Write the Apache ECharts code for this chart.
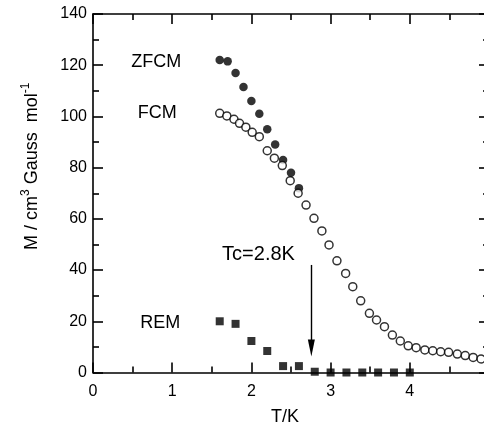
<!DOCTYPE html>
<html>
<head>
<meta charset="utf-8">
<title>M vs T</title>
<script src="https://cdn.jsdelivr.net/npm/echarts@6/dist/echarts.min.js"></script>
<style>
  html, body { margin: 0; padding: 0; background: #fff; }
  #main { width: 484px; height: 425px; }
</style>
</head>
<body>
<div id="main"></div>
<script>
// data (T in K, M in cm3 Gauss mol-1)
var zfcmT = [1.6, 1.7, 1.8, 1.9, 2.0, 2.1, 2.2, 2.3, 2.4, 2.5, 2.6];
var zfcmM = [122, 121.5, 117, 111.5, 106, 101, 95, 89, 83, 78, 72];

var fcmT = [1.60, 1.69, 1.78, 1.85, 1.93, 2.01, 2.10, 2.20, 2.29, 2.39, 2.49, 2.59, 2.69, 2.79,
            2.89, 2.98, 3.08, 3.19, 3.28, 3.38, 3.49, 3.58, 3.68, 3.78, 3.88, 3.98, 4.08, 4.19,
            4.29, 4.39, 4.49, 4.60, 4.70, 4.80, 4.90];
var fcmM = [101.2, 100.2, 98.9, 97.3, 95.8, 93.8, 92.1, 86.6, 83.7, 80.8, 74.9, 70, 65.4, 60.2,
            55.3, 49.8, 43.6, 38.7, 33.5, 28, 23.1, 20.5, 17.9, 14.6, 12.3, 10.4, 9.7, 8.8,
            8.5, 8.1, 7.9, 7.2, 6.6, 5.9, 5.3];

var remT = [1.6, 1.8, 2.0, 2.2, 2.4, 2.6, 2.8, 3.0, 3.2, 3.4, 3.6, 3.8, 4.0];
var remM = [20, 19, 12.3, 8.4, 2.5, 2.5, 0.3, 0, 0, 0, 0, 0, 0];

var tc = 2.757;          // arrow position
var arrowFrom = 42, arrowTo = 9.6;

function pairs(xs, ys) {
  return xs.map(function (x, i) { return [x, ys[i]]; });
}

var FONT = 'Liberation Sans';
var chart = echarts.init(document.getElementById('main'), null, {renderer: 'canvas'});

var lineStyle = {color: '#000', width: 1.6};

function tag(text, x, y, size) {
  return {
    coord: [x, y], symbolSize: 0,
    label: {show: true, position: 'inside', formatter: text, color: '#000',
            fontFamily: FONT, fontSize: size}
  };
}

chart.setOption({
  animation: false,
  backgroundColor: '#fff',
  grid: {left: 93, top: 14, width: 396, height: 358.5, outerBoundsMode: 'none', containLabel: false},
  xAxis: [{
    type: 'value', min: 0, max: 5, interval: 1,
    name: 'T/K', nameLocation: 'middle', nameGap: 36,
    nameTextStyle: {color: '#000', fontFamily: FONT, fontSize: 18, padding: [0, 12, 0, 0]},
    axisLine: {onZero: false, lineStyle: lineStyle},
    axisTick: {inside: true, length: 10, lineStyle: lineStyle},
    minorTick: {show: true, splitNumber: 2, length: 6, lineStyle: lineStyle},
    axisLabel: {color: '#000', fontFamily: FONT, fontSize: 16, margin: 11},
    splitLine: {show: false}
  }, {
    type: 'value', min: 0, max: 5, interval: 1, position: 'top',
    axisLine: {onZero: false, lineStyle: lineStyle},
    axisTick: {inside: true, length: 10, lineStyle: lineStyle},
    minorTick: {show: true, splitNumber: 2, length: 6, lineStyle: lineStyle},
    axisLabel: {show: false},
    splitLine: {show: false}
  }],
  yAxis: [{
    type: 'value', min: 0, max: 140, interval: 20,
    name: '{a|M / cm}{s|3}{a| Gauss  mol}{s|-1}',
    nameLocation: 'middle', nameGap: 52,
    nameTextStyle: {
      color: '#000', fontFamily: FONT, padding: [0, 0, 0, 54],
      rich: {
        a: {fontFamily: FONT, fontSize: 18, color: '#000', verticalAlign: 'bottom'},
        s: {fontFamily: FONT, fontSize: 12, color: '#000', verticalAlign: 'bottom', padding: [0, 0, 9, 0]}
      }
    },
    axisLine: {onZero: false, lineStyle: lineStyle},
    axisTick: {inside: true, length: 10, lineStyle: lineStyle},
    minorTick: {show: true, splitNumber: 2, length: 6, lineStyle: lineStyle},
    axisLabel: {color: '#000', fontFamily: FONT, fontSize: 16, margin: 6},
    splitLine: {show: false}
  }, {
    type: 'value', min: 0, max: 140, interval: 20, position: 'right',
    axisLine: {onZero: false, lineStyle: lineStyle},
    axisTick: {inside: true, length: 10, lineStyle: lineStyle},
    minorTick: {show: true, splitNumber: 2, length: 6, lineStyle: lineStyle},
    axisLabel: {show: false},
    splitLine: {show: false}
  }],
  series: [{
    name: 'ZFCM', type: 'scatter', symbol: 'circle', symbolSize: 8.5,
    itemStyle: {color: '#000'},
    data: pairs(zfcmT, zfcmM),
    markPoint: {silent: true, symbol: 'circle', data: [tag('ZFCM', 0.80, 121.3, 18)]}
  }, {
    name: 'FCM', type: 'scatter', symbol: 'circle', symbolSize: 8,
    itemStyle: {color: '#fff', borderColor: '#000', borderWidth: 1.5},
    data: pairs(fcmT, fcmM),
    markPoint: {silent: true, symbol: 'circle', data: [tag('FCM', 0.81, 101.4, 18)]}
  }, {
    name: 'REM', type: 'scatter', symbol: 'rect', symbolSize: 8,
    itemStyle: {color: '#000'},
    data: pairs(remT, remM),
    markPoint: {silent: true, symbol: 'circle', data: [
      tag('REM', 0.85, 19.3, 18),
      tag('Tc=2.8K', 2.09, 46.1, 20)
    ]},
    markLine: {
      silent: true, symbol: ['none', 'triangle'], symbolSize: [7, 17],
      label: {show: false},
      lineStyle: {color: '#000', width: 1.4, type: 'solid'},
      data: [[{coord: [tc, arrowFrom]}, {coord: [tc, arrowTo]}]]
    }
  }]
});
</script>
</body>
</html>
